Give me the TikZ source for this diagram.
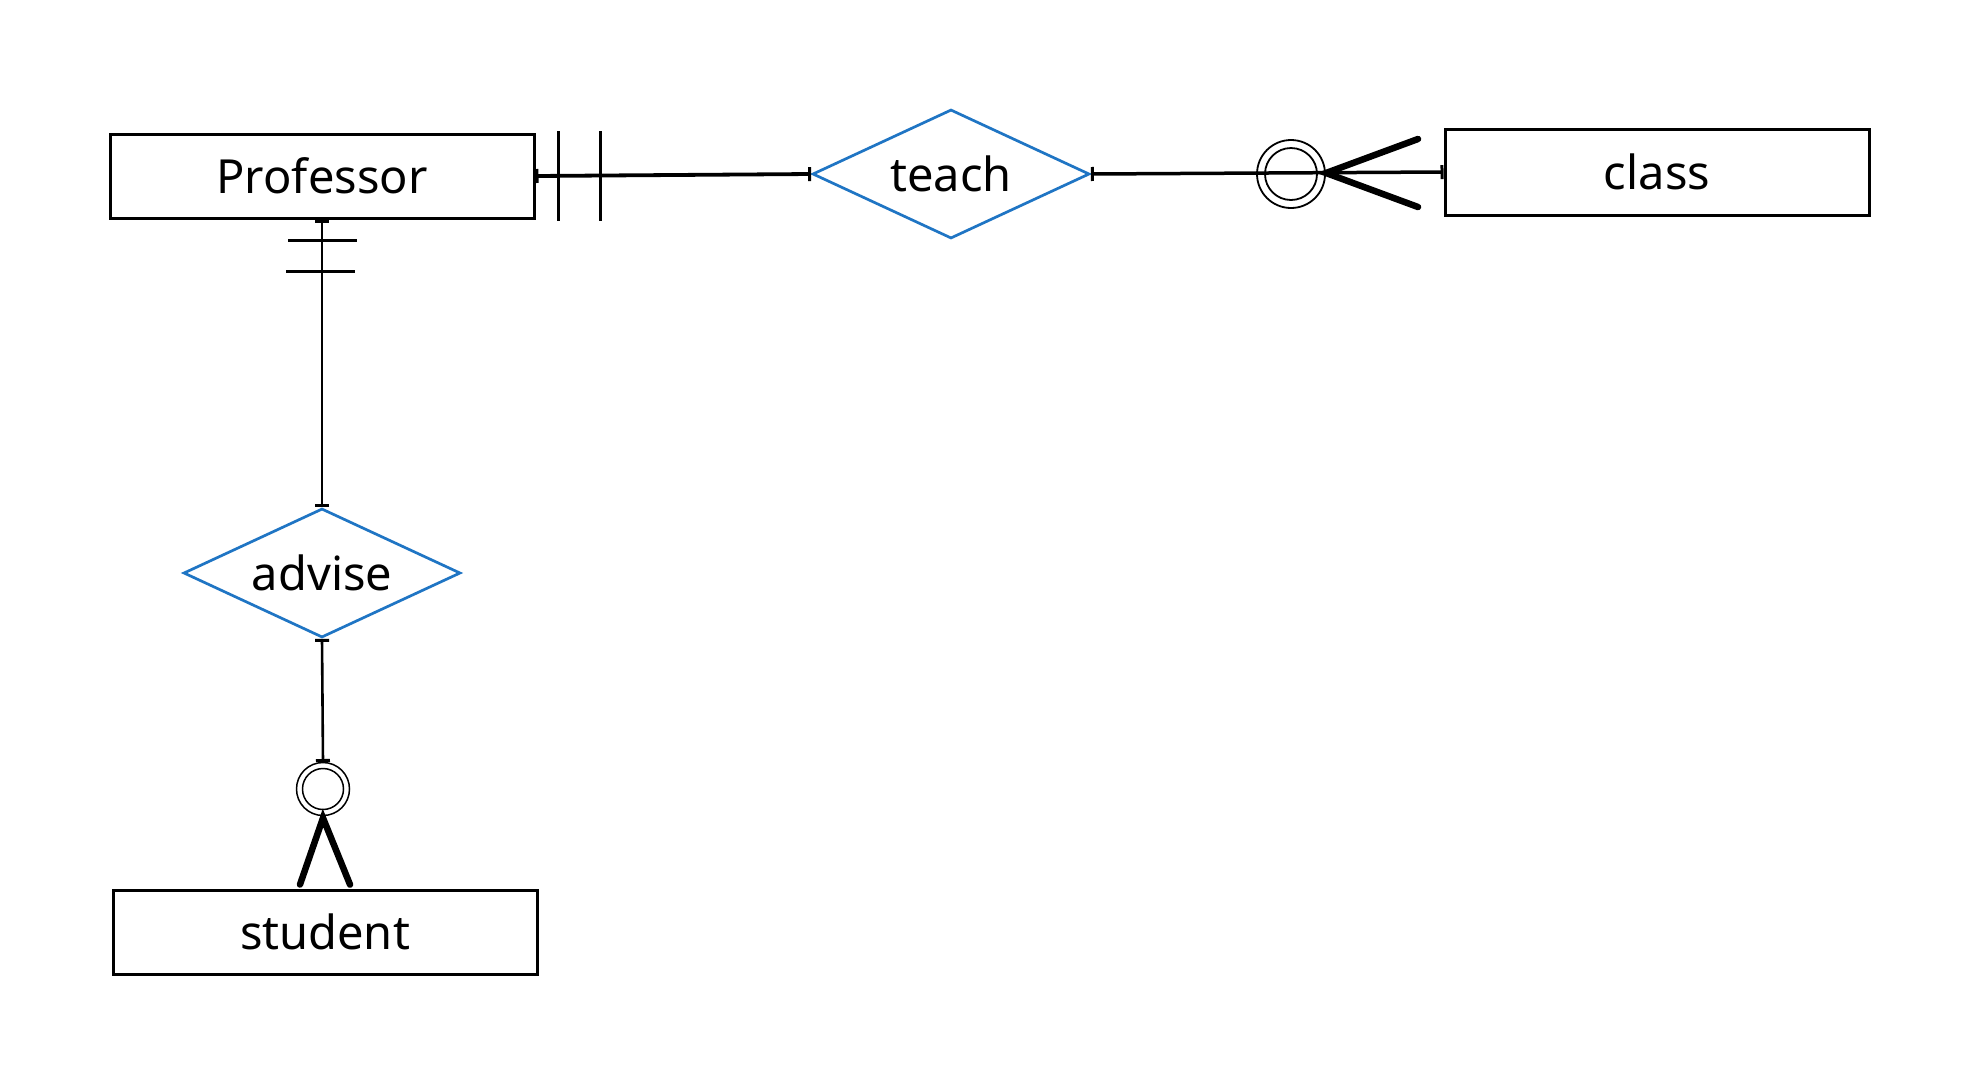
\documentclass[tikz,border=0pt]{standalone}
\usepackage{fontspec}
\setmainfont{Noto Sans}
\usetikzlibrary{shapes.geometric,arrows.meta,calc}
\definecolor{relblue}{RGB}{31,117,196}
\begin{document}
\begin{tikzpicture}[x=1pt,y=-1pt,
  entity/.style={draw=black,line width=3pt,minimum width=424pt,minimum height=84pt,inner sep=0pt,font=\fontsize{47}{52}\selectfont},
  rel/.style={diamond,draw=relblue,line width=2.7pt,minimum width=277pt,minimum height=129pt,aspect=2.15,inner sep=0pt,font=\fontsize{47}{52}\selectfont},
  conn/.style={draw=black,line width=3pt,{Bar[width=14pt,line width=3pt]}-{Bar[width=14pt,line width=3pt]}},
  onebar/.style={draw=black,line width=3.5pt},
  ring/.style={draw=black,line width=1.8pt},
  foot/.style={draw=black,line width=6.5pt,line cap=round}]
\useasboundingbox[fill=white] (0,0) rectangle (1980,1080);

% nodes
\node[entity] (prof) at (322,176) {Professor};
\node[rel] (teach) at (951,174) {teach};
\node[entity,minimum height=86pt] (class) at (1657,172) {class};
\node[rel] (advise) at (322,573) {advise};
\node[entity] (student) at (325,932) {student};

% Professor -- teach
\draw[conn,line width=3.8pt] (prof.east) -- (teach.west);
\draw[onebar] ($(prof.east)+(23,-45)$) -- ($(prof.east)+(23,45)$);
\draw[onebar] ($(prof.east)+(65,-45)$) -- ($(prof.east)+(65,45)$);

% teach -- class
\coordinate (tc) at (1291,174);
\draw[conn,line width=3.5pt] (teach.east) -- (class.west);
\draw[ring] (tc) circle[radius=34pt];
\draw[ring] (tc) circle[radius=26pt];
\coordinate (tcapex) at ($(tc)+(35,-1)$);
\draw[foot] ($(tc)+(127,-35)$) -- (tcapex) -- ($(tc)+(127,33)$);

% Professor -- advise
\draw[conn,line width=2.6pt] (prof.south) -- (advise.north);
\draw[onebar,line width=2.8pt] ($(prof.south)+(-34,21)$) -- ($(prof.south)+(35,21)$);
\draw[onebar,line width=2.8pt] ($(prof.south)+(-36,52)$) -- ($(prof.south)+(33,52)$);

% advise -- student
\coordinate (sc) at (323,789);
\coordinate (sctop) at ($(sc)+(0,-27)$);
\draw[conn,line width=2.6pt] (advise.south) -- (sctop);
\draw[ring,line width=1.5pt] (sc) circle[radius=26.5pt];
\draw[ring,line width=1.5pt] (sc) circle[radius=20.5pt];
\coordinate (sapex) at ($(sc)+(0,29)$);
\draw[foot] ($(student.north)+(-25,-4)$) -- (sapex) -- ($(student.north)+(25,-4)$);
\end{tikzpicture}
\end{document}
